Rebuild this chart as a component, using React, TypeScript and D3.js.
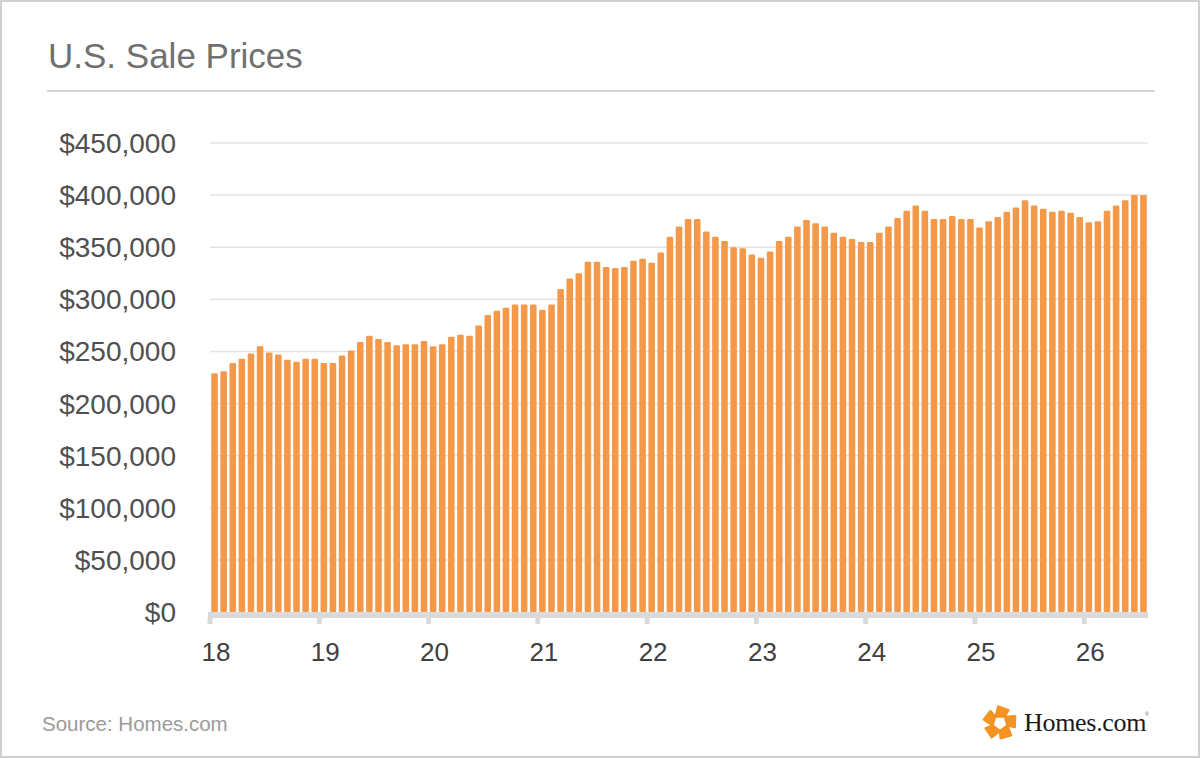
import React from "react";
import * as d3 from "d3";

// monthly U.S. sale prices, Jan 2018 – Jul 2026
const startYear = 18;
const prices = [
  229000, 231000, 239000, 243000, 248000, 255000, 249000, 247000, 242000, 240000, 243000, 243000,
  239000, 239000, 246000, 251000, 259000, 265000, 262000, 259000, 256000, 257000, 257000, 260000,
  255000, 257000, 264000, 266000, 265000, 275000, 285000, 289000, 292000, 295000, 295000, 295000,
  290000, 295000, 310000, 320000, 325000, 336000, 336000, 331000, 330000, 331000, 337000, 339000,
  335000, 345000, 360000, 370000, 377000, 377000, 365000, 360000, 356000, 350000, 349000, 343000,
  340000, 346000, 356000, 360000, 370000, 376000, 373000, 370000, 364000, 360000, 358000, 355000,
  355000, 364000, 370000, 378000, 385000, 390000, 385000, 377000, 377000, 380000, 377000, 377000,
  369000, 375000, 379000, 384000, 388000, 395000, 390000, 387000, 384000, 385000, 383000, 379000,
  374000, 375000, 385000, 390000, 395000, 400000, 400000,
];
const yTicks = [0, 50000, 100000, 150000, 200000, 250000, 300000, 350000, 400000, 450000];
const yearLabels = ["18", "19", "20", "21", "22", "23", "24", "25", "26"];

const W = 1200;
const H = 758;
const left = 210;
const right = 1148;
const top = 143;
const bottom = 612;

const ORANGE = "#F4994A";
const sans = "'Liberation Sans', Arial, sans-serif";

export default function App() {
  const x = d3
    .scaleBand<number>()
    .domain(d3.range(prices.length))
    .range([left, right])
    .paddingInner(0.28)
    .paddingOuter(0.14);
  const y = d3.scaleLinear().domain([0, 450000]).range([bottom, top]);
  const fmt = d3.format("$,");

  const offset = (x.step() - x.bandwidth()) / 2;
  const tickX = (i: number) => (x(i) as number) - offset;

  // logo pieces (pinwheel with open centre)
  const cx = 1000;
  const cy = 723;
  const piece = "M-5,-6 L-2,-17 L9,-13 L5,-6 Z";

  return (
    <div style={{ position: "absolute", left: 0, top: 0 }}>
      <svg width={W} height={H} style={{ display: "block", background: "#fff" }}>
        <rect x={1} y={1} width={W - 2} height={H - 2} fill="#fff" stroke="#cfcfcf" strokeWidth={2} />

        <text x={48} y={68} fontFamily={sans} fontSize={35} fill="#707070">
          U.S. Sale Prices
        </text>
        <line x1={47} x2={1155} y1={91} y2={91} stroke="#c8c8c8" strokeWidth={1.5} />

        {yTicks.map((t) => (
          <g key={t}>
            {t > 0 && (
              <line x1={left} x2={right} y1={y(t)} y2={y(t)} stroke="#e3e3e3" strokeWidth={1.5} />
            )}
            <text
              x={176}
              y={y(t) + 10}
              textAnchor="end"
              fontFamily={sans}
              fontSize={28}
              fill="#505050"
            >
              {fmt(t)}
            </text>
          </g>
        ))}

        {prices.map((p, i) => (
          <rect
            key={i}
            x={x(i)}
            y={y(p)}
            width={x.bandwidth()}
            height={bottom - y(p)}
            rx={1.2}
            fill={ORANGE}
          />
        ))}

        <rect x={left - 2} y={bottom} width={right - left + 2} height={6} fill="#dadada" />
        {yearLabels.map((lab, k) => {
          const tx = tickX(k * 12);
          return (
            <g key={lab}>
              <rect x={tx - 2.5} y={bottom + 6} width={5} height={6} fill="#dadada" />
              <text
                x={tx + 6}
                y={661}
                textAnchor="middle"
                fontFamily={sans}
                fontSize={26}
                fill="#404040"
              >
                {startYear + k}
              </text>
            </g>
          );
        })}

        <text x={42} y={731} fontFamily={sans} fontSize={20.5} fill="#9a9a9a">
          Source: Homes.com
        </text>

        <g transform={`translate(${cx},${cy})`}>
          {d3.range(5).map((i) => (
            <path
              key={i}
              d={piece}
              transform={`rotate(${i * 72})`}
              fill="#F39321"
              stroke="#F39321"
              strokeWidth={1.5}
              strokeLinejoin="round"
            />
          ))}
        </g>
        <text
          x={1024}
          y={731}
          fontFamily="'Liberation Serif', 'Times New Roman', serif"
          fontSize={26}
          fill="#1a1a1a"
          letterSpacing={-0.3}
        >
          Homes.com
        </text>
        <text x={1145} y={716} fontFamily={sans} fontSize={5} fill="#666">
          ®
        </text>
      </svg>
    </div>
  );
}
